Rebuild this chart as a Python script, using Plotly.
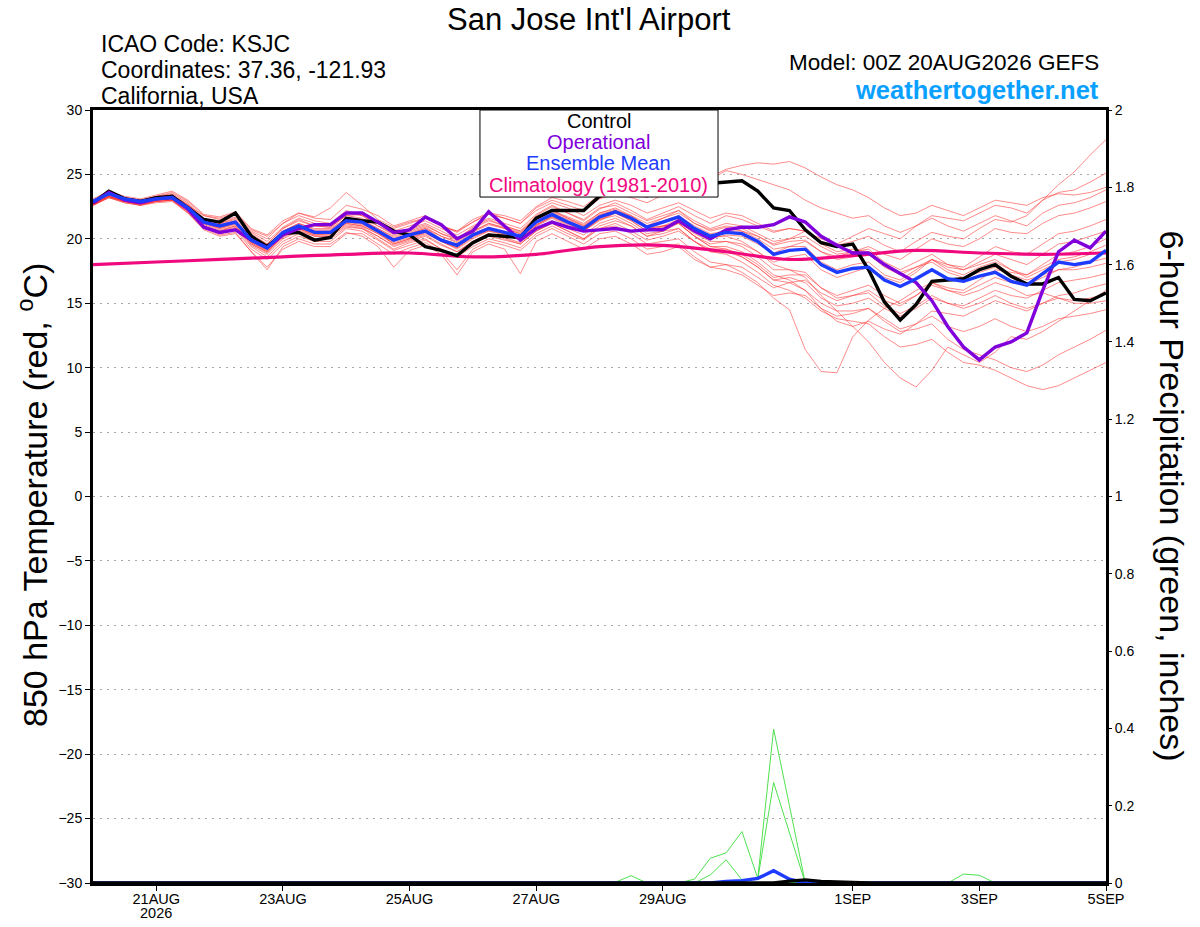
import plotly.graph_objects as go
import pandas as pd

# waktu 6-jam dari 20 Agu 00Z s/d 5 Sep 00Z
times = pd.date_range("2026-08-20 00:00", periods=65, freq="6h")
clim_days = pd.date_range("2026-08-20", periods=17, freq="D")

tick_vals = ["2026-08-21", "2026-08-23", "2026-08-25", "2026-08-27",
             "2026-08-29", "2026-09-01", "2026-09-03", "2026-09-05"]
tick_text = ["21AUG", "23AUG", "25AUG", "27AUG", "29AUG", "1SEP", "3SEP", "5SEP"]
year_label = "2026"

# suhu 850 hPa (C)
control = [22.8, 23.7, 23.1, 22.9, 23.2, 23.3, 22.4, 21.5, 21.3, 22.0, 20.2, 19.4, 20.4, 20.5, 19.9, 20.1, 21.6,
           21.4, 21.3, 20.6, 20.3, 19.4, 19.1, 18.7, 19.7, 20.3, 20.2, 20.1, 21.6, 22.2, 22.2, 22.2, 23.3,
           23.8, 24.0, 24.1, 24.0, 24.1, 24.2, 24.3, 24.4, 24.5, 23.7, 22.4, 22.2, 20.7, 19.7, 19.4,
           19.6, 17.6, 15.1, 13.7, 14.9, 16.7, 16.8, 16.9, 17.6, 18.0, 17.1, 16.5, 16.5, 17.0, 15.3, 15.2, 15.8]
operational = [22.8, 23.6, 23.0, 22.8, 23.1, 23.2, 22.3, 20.9, 20.5, 20.7, 19.9, 19.3, 20.3, 20.8, 21.1, 21.1, 22.0,
               22.0, 21.3, 20.5, 20.7, 21.7, 21.1, 20.0, 20.6, 22.1, 21.0, 19.9, 20.8, 21.3, 20.9, 20.6, 20.7,
               20.8, 20.6, 20.7, 20.7, 21.4, 20.6, 20.0, 20.7, 20.9, 20.9, 21.1, 21.7, 21.3, 20.2, 19.5,
               18.9, 18.9, 18.0, 17.3, 16.6, 15.2, 13.2, 11.6, 10.6, 11.6, 12.0, 12.7, 16.0, 19.0, 19.9, 19.3, 20.6]
ens_mean = [22.9, 23.5, 23.1, 22.9, 23.1, 23.2, 22.4, 21.3, 21.0, 21.3, 19.9, 19.3, 20.5, 21.0, 20.5, 20.5, 21.4,
            21.3, 20.6, 19.9, 20.3, 20.6, 19.9, 19.5, 20.3, 20.8, 20.5, 20.2, 21.3, 21.9, 21.3, 20.8, 21.7,
            22.1, 21.6, 20.9, 21.3, 21.7, 20.8, 20.2, 20.5, 20.4, 19.8, 18.8, 19.1, 19.2, 18.0, 17.4,
            17.7, 17.8, 16.8, 16.3, 16.9, 17.6, 16.9, 16.7, 17.1, 17.4, 16.7, 16.4, 17.3, 18.2, 18.0, 18.2, 19.1]
climatology = [18.0, 18.2, 18.4, 18.6, 18.8, 18.9, 18.6, 18.8, 19.4, 19.5, 19.0, 18.4, 18.7, 19.1, 18.9, 18.8, 18.9]

m01 = [23.0, 23.6, 23.2, 23.0, 23.3, 23.5, 22.8, 21.6, 21.2, 21.6, 20.5, 19.8, 20.9, 21.6, 21.2, 21.0, 22.0,
       21.8, 21.0, 20.4, 20.8, 21.2, 20.6, 20.0, 20.9, 21.5, 21.0, 20.6, 21.8, 22.5, 22.0, 21.4, 22.3,
       22.8, 22.2, 21.5, 22.0, 22.5, 21.8, 21.2, 21.8, 21.5, 21.0, 20.5, 20.8, 20.6, 19.8, 19.5,
       19.8, 20.2, 19.5, 19.0, 19.8, 20.5, 20.2, 20.0, 20.8, 21.5, 21.3, 21.8, 23.0, 24.2, 25.2, 26.5, 27.7]
m02 = [22.7, 23.4, 23.0, 22.8, 23.0, 23.3, 22.6, 21.8, 21.5, 21.9, 20.6, 20.0, 21.2, 22.0, 21.6, 21.5, 22.6,
       22.3, 21.8, 21.0, 21.4, 21.8, 21.0, 20.6, 21.5, 22.0, 21.6, 21.2, 22.4, 23.0, 22.6, 22.2, 23.1,
       23.5, 23.2, 22.8, 23.4, 24.0, 24.3, 24.6, 25.3, 25.0, 24.6, 24.2, 23.8, 23.0, 22.4, 22.0,
       21.6, 21.8, 21.0, 20.5, 21.0, 21.6, 21.0, 20.6, 21.2, 21.8, 21.4, 21.0, 22.0, 22.6, 22.8, 23.2, 23.8]
m03 = [22.6, 23.3, 22.9, 22.7, 23.0, 23.1, 22.3, 21.0, 20.6, 21.0, 19.6, 19.0, 20.2, 20.8, 20.3, 20.4, 21.2,
       21.0, 20.4, 19.6, 20.0, 20.5, 19.8, 19.2, 20.0, 20.6, 20.3, 19.9, 21.0, 21.6, 21.0, 20.6, 21.4,
       22.0, 21.5, 21.0, 21.6, 22.2, 21.4, 20.8, 21.2, 21.0, 20.4, 19.8, 20.0, 20.6, 20.0, 19.6,
       20.2, 20.8, 20.4, 20.0, 21.0, 21.8, 21.6, 21.4, 22.0, 22.6, 22.4, 22.0, 23.0, 23.6, 23.8, 24.4, 25.1]
m04 = [22.9, 23.5, 23.2, 23.0, 23.2, 23.4, 22.7, 21.5, 21.3, 21.7, 20.4, 19.6, 20.8, 21.5, 21.0, 20.9, 21.8,
       21.9, 21.3, 20.8, 21.2, 21.6, 21.0, 20.5, 21.3, 22.0, 21.8, 21.4, 22.5, 23.2, 22.9, 22.5, 23.4,
       24.0, 23.6, 23.2, 24.0, 24.6, 24.4, 24.8, 25.4, 25.7, 25.9, 25.8, 26.0, 25.5, 24.8, 24.2,
       23.8, 23.2, 22.4, 21.8, 22.0, 22.6, 22.2, 21.8, 22.4, 23.0, 22.8, 22.6, 23.2, 23.5, 23.4, 23.6, 24.0]
m05 = [22.8, 23.4, 23.0, 22.8, 23.1, 23.2, 22.3, 21.2, 20.8, 21.2, 19.7, 19.1, 20.3, 21.0, 20.6, 20.6, 21.5,
       21.2, 20.5, 19.6, 20.0, 20.4, 19.8, 19.3, 20.2, 20.6, 20.4, 20.0, 21.0, 21.8, 21.2, 20.6, 21.5,
       22.0, 21.4, 20.6, 21.0, 21.5, 20.6, 20.0, 20.3, 20.2, 19.6, 18.9, 19.4, 19.8, 19.0, 18.6,
       19.0, 19.4, 18.8, 18.4, 19.2, 20.0, 19.6, 19.4, 20.0, 20.8, 20.5, 20.4, 21.2, 21.8, 22.0, 22.4, 22.9]
m06 = [22.6, 23.2, 22.8, 22.6, 22.9, 23.0, 22.2, 21.0, 20.5, 20.8, 19.4, 18.6, 19.8, 20.4, 20.0, 20.0, 20.9,
       20.8, 20.0, 19.2, 19.7, 20.0, 19.2, 18.7, 19.6, 20.2, 19.9, 19.6, 20.6, 21.2, 20.6, 20.0, 21.0,
       21.4, 21.0, 20.2, 20.6, 21.2, 20.2, 19.6, 19.8, 19.6, 19.0, 18.2, 18.6, 18.8, 17.6, 17.0,
       17.4, 17.8, 17.0, 16.6, 17.4, 18.4, 18.0, 17.8, 18.6, 19.4, 19.0, 18.8, 19.6, 20.4, 20.6, 21.0, 21.5]
m07 = [23.0, 23.6, 23.2, 23.0, 23.3, 23.6, 22.9, 21.8, 21.6, 22.0, 20.7, 20.2, 21.2, 21.8, 21.4, 21.2, 22.2,
       21.8, 21.2, 20.6, 21.0, 21.4, 20.8, 20.3, 21.0, 21.6, 21.2, 20.8, 21.9, 22.6, 22.0, 21.5, 22.4,
       22.6, 22.0, 21.4, 21.8, 22.2, 21.2, 20.6, 20.9, 20.6, 20.0, 19.2, 19.4, 19.4, 18.2, 17.6,
       18.0, 18.2, 17.2, 16.8, 17.6, 18.4, 17.8, 17.6, 18.2, 18.8, 18.4, 18.0, 18.8, 19.6, 19.8, 20.2, 20.6]
m08 = [22.7, 23.3, 22.9, 22.7, 22.9, 23.0, 22.0, 20.8, 20.3, 20.5, 19.0, 17.6, 19.4, 20.0, 19.6, 19.6, 20.5,
       20.2, 19.4, 17.8, 19.1, 19.5, 18.8, 17.2, 19.0, 19.6, 19.2, 17.3, 19.8, 20.4, 19.8, 19.2, 20.0,
       20.2, 19.6, 18.8, 19.0, 19.4, 18.4, 17.8, 18.0, 17.8, 17.0, 16.2, 16.6, 16.8, 15.8, 15.2,
       15.6, 16.0, 15.2, 14.8, 15.6, 16.6, 16.2, 16.0, 16.8, 17.6, 17.4, 17.2, 18.0, 18.8, 19.0, 19.4, 20.0]
m09 = [22.9, 23.5, 23.1, 22.9, 23.2, 23.3, 22.5, 21.4, 21.1, 21.4, 20.0, 19.4, 20.6, 21.2, 20.8, 20.8, 21.6,
       21.5, 20.8, 20.2, 20.6, 21.0, 20.4, 19.9, 20.6, 21.2, 20.9, 20.5, 21.6, 22.2, 21.7, 21.2, 22.0,
       22.4, 21.8, 21.2, 21.6, 22.0, 21.2, 20.7, 21.0, 20.8, 20.2, 19.5, 19.8, 19.9, 19.0, 18.4,
       18.6, 18.8, 17.8, 17.2, 17.8, 18.4, 17.6, 17.2, 17.8, 18.2, 17.6, 17.2, 17.8, 18.4, 18.6, 19.0, 19.5]
m10 = [22.8, 23.4, 23.0, 22.8, 23.0, 23.1, 22.4, 21.2, 20.9, 21.2, 19.8, 19.2, 20.4, 20.9, 20.4, 20.4, 21.3,
       21.2, 20.6, 19.9, 20.4, 20.8, 20.0, 19.6, 20.4, 20.9, 20.6, 20.2, 21.3, 21.9, 21.4, 20.9, 21.8,
       22.2, 21.8, 21.0, 21.4, 21.8, 21.0, 20.4, 20.6, 20.6, 20.2, 19.6, 20.0, 20.2, 19.4, 18.8,
       19.0, 19.2, 18.2, 17.6, 18.2, 18.8, 18.0, 17.6, 18.0, 18.4, 17.6, 17.0, 17.6, 18.2, 18.4, 18.8, 19.1]
m11 = [22.6, 23.2, 22.9, 22.6, 22.9, 23.0, 22.1, 20.9, 20.4, 20.7, 19.2, 18.4, 19.6, 20.2, 19.8, 19.8, 20.8,
       20.6, 19.9, 19.1, 19.5, 19.9, 19.2, 18.6, 19.4, 20.0, 19.7, 19.3, 20.4, 21.0, 20.4, 19.9, 20.8,
       21.2, 20.6, 19.9, 20.2, 20.6, 19.8, 19.2, 19.2, 18.8, 18.0, 17.0, 17.2, 17.2, 16.2, 15.6,
       16.0, 16.4, 15.6, 15.0, 15.6, 16.4, 16.0, 15.8, 16.4, 17.0, 16.6, 16.4, 17.0, 17.6, 17.8, 18.2, 18.5]
m12 = [23.1, 23.7, 23.3, 23.1, 23.4, 23.7, 23.0, 21.9, 21.7, 22.1, 20.8, 20.3, 21.4, 22.0, 21.7, 22.4, 23.6,
       22.6, 21.5, 20.9, 21.3, 21.6, 21.0, 20.6, 21.3, 21.9, 21.6, 21.2, 22.2, 22.8, 22.4, 21.8, 22.6,
       23.0, 22.6, 22.0, 22.4, 22.8, 22.2, 21.6, 22.0, 21.8, 21.2, 20.6, 20.8, 20.6, 19.6, 19.0,
       19.2, 19.0, 18.0, 17.4, 17.8, 18.2, 17.4, 17.0, 17.4, 17.8, 17.2, 16.8, 17.2, 17.6, 17.6, 17.8, 18.1]
m13 = [22.7, 23.3, 22.9, 22.7, 22.9, 23.0, 22.1, 20.9, 20.6, 20.9, 19.5, 18.8, 20.0, 20.6, 20.2, 20.2, 21.0,
       20.8, 20.2, 19.5, 19.9, 20.3, 19.6, 19.0, 19.8, 20.4, 20.1, 19.7, 20.8, 21.4, 20.8, 20.3, 21.2,
       21.6, 21.0, 20.2, 20.4, 20.8, 19.8, 19.0, 19.0, 18.6, 17.8, 16.8, 17.0, 16.6, 15.4, 14.8,
       15.0, 15.4, 14.6, 14.0, 14.6, 15.4, 15.0, 14.8, 15.4, 16.0, 15.6, 15.4, 16.0, 16.6, 16.8, 17.0, 17.3]
m14 = [22.9, 23.5, 23.1, 22.9, 23.1, 23.3, 22.5, 21.3, 21.0, 21.3, 19.9, 19.3, 20.6, 21.1, 20.6, 20.6, 21.5,
       21.4, 20.8, 20.1, 20.5, 20.9, 20.2, 19.8, 20.6, 21.2, 20.8, 20.4, 21.4, 22.0, 21.5, 21.0, 21.8,
       22.2, 21.6, 20.8, 21.0, 21.2, 20.2, 19.4, 19.4, 19.0, 18.2, 17.2, 16.8, 16.0, 14.6, 13.6,
       13.2, 13.6, 13.0, 12.6, 13.4, 14.4, 14.2, 14.0, 14.6, 15.2, 14.8, 14.4, 15.0, 15.6, 15.8, 16.2, 16.5]
m15 = [22.8, 23.4, 23.0, 22.8, 23.1, 23.2, 22.4, 21.2, 20.9, 21.2, 19.8, 19.1, 20.3, 20.8, 20.3, 20.3, 21.2,
       21.0, 20.4, 19.7, 20.1, 20.5, 19.8, 19.3, 20.1, 20.7, 20.4, 20.0, 21.1, 21.7, 21.1, 20.6, 21.6,
       22.0, 21.4, 20.6, 20.9, 21.3, 20.4, 19.8, 19.8, 19.4, 18.6, 17.6, 17.6, 17.4, 16.2, 15.4,
       15.6, 15.8, 14.8, 14.2, 14.8, 15.6, 15.0, 14.6, 15.0, 15.6, 15.0, 14.6, 15.0, 15.4, 15.2, 15.4, 15.7]
m16 = [22.7, 23.3, 22.9, 22.7, 23.0, 23.1, 22.3, 21.1, 20.7, 21.0, 19.6, 18.9, 20.1, 20.7, 20.2, 20.2, 21.1,
       20.9, 20.2, 19.4, 19.8, 20.2, 19.5, 19.0, 19.8, 20.4, 20.0, 19.6, 20.6, 21.2, 20.6, 20.0, 20.8,
       21.0, 20.4, 19.6, 19.8, 20.0, 19.0, 18.2, 18.0, 17.4, 16.6, 15.4, 14.5, 11.4, 9.7, 9.6,
       12.4, 13.7, 14.6, 15.2, 16.0, 16.6, 16.0, 15.6, 16.0, 16.6, 16.2, 15.6, 15.8, 15.4, 15.0, 15.0, 15.2]
m17 = [22.6, 23.2, 22.8, 22.6, 22.8, 22.9, 22.0, 20.7, 20.2, 20.4, 19.0, 17.8, 19.2, 19.8, 19.4, 19.4, 20.4,
       20.4, 19.6, 18.8, 19.3, 19.7, 19.0, 17.6, 19.2, 19.8, 19.5, 19.1, 20.2, 20.8, 20.2, 19.6, 20.4,
       20.6, 20.0, 19.2, 19.4, 19.6, 18.6, 17.8, 17.6, 17.2, 16.4, 15.6, 15.8, 15.6, 14.6, 14.0,
       14.2, 14.6, 13.8, 13.0, 13.4, 14.0, 13.2, 12.8, 13.2, 13.8, 13.2, 12.8, 13.2, 13.8, 14.0, 14.2, 14.5]
m18 = [23.0, 23.6, 23.2, 23.0, 23.2, 23.4, 22.6, 21.5, 21.2, 21.5, 20.2, 19.6, 20.8, 21.4, 21.0, 20.9, 21.8,
       21.6, 21.0, 20.3, 20.7, 21.1, 20.4, 20.0, 20.8, 21.4, 21.0, 20.6, 21.6, 22.2, 21.6, 21.0, 21.9,
       22.2, 21.6, 20.8, 21.0, 21.2, 20.2, 19.4, 19.2, 18.6, 17.8, 16.8, 16.6, 16.0, 15.0, 14.4,
       14.4, 14.6, 13.6, 12.8, 13.0, 13.4, 12.2, 11.4, 11.0, 10.6, 10.0, 9.7, 10.2, 11.0, 11.6, 12.2, 12.9]
m19 = [22.7, 23.3, 22.9, 22.8, 23.0, 23.2, 22.4, 21.2, 20.8, 21.1, 19.7, 19.0, 20.2, 20.8, 20.4, 20.4, 21.3,
       21.1, 20.5, 19.8, 20.2, 20.6, 19.9, 19.4, 20.2, 20.8, 20.5, 20.1, 21.1, 21.7, 21.2, 20.7, 21.5,
       21.8, 21.2, 20.4, 20.6, 20.8, 19.8, 19.0, 18.8, 18.2, 17.4, 16.4, 16.0, 15.4, 14.4, 13.8,
       13.6, 13.4, 12.4, 11.6, 11.8, 12.2, 11.2, 10.4, 10.2, 9.8, 9.2, 8.6, 8.3, 8.6, 9.2, 9.8, 10.4]
m20 = [22.9, 23.5, 23.1, 22.9, 23.2, 23.4, 22.6, 21.4, 21.1, 21.4, 20.1, 19.5, 20.6, 21.2, 20.7, 20.7, 21.6,
       21.4, 20.7, 20.0, 20.4, 20.8, 20.2, 19.7, 20.5, 21.1, 20.8, 20.4, 21.5, 22.1, 21.6, 21.1, 22.0,
       22.3, 21.7, 21.0, 21.3, 21.6, 20.8, 20.2, 20.2, 19.8, 19.0, 18.0, 17.6, 17.0, 15.6, 14.4,
       13.2, 12.0, 10.4, 9.2, 8.5, 9.8, 11.6, 11.0, 10.4, 11.2, 12.4, 12.2, 12.8, 13.6, 14.4, 15.2, 16.0]
members = [m01, m02, m03, m04, m05, m06, m07, m08, m09, m10,
           m11, m12, m13, m14, m15, m16, m17, m18, m19, m20]

# presipitasi 6-jam (inch), hanya langkah waktu yang tidak nol (indeks langkah 6-jam)
precip_wet_a = {38: 0.010, 39: 0.064, 40: 0.078, 41: 0.133, 42: 0.012, 43: 0.398, 44: 0.200}
precip_wet_b = {39: 0.021, 40: 0.060, 41: 0.008, 42: 0.010, 43: 0.260, 44: 0.130}
precip_wet_c = {33: 0.002, 34: 0.019}
precip_wet_d = {55: 0.023, 56: 0.020}
precip_mean = {40: 0.004, 41: 0.006, 42: 0.012, 43: 0.032, 44: 0.010}
precip_control = {44: 0.005, 45: 0.008, 46: 0.004, 47: 0.002}
wet_members = [precip_wet_a, precip_wet_b, precip_wet_c, precip_wet_d]


def expand(d):
    return [d.get(i, 0.0) for i in range(len(times))]


FONT = "Liberation Sans, Arial, Helvetica, sans-serif"

fig = go.Figure()

# garis anggota ensemble (suhu)
for m in members:
    fig.add_trace(go.Scatter(x=times, y=m, mode="lines",
                             line=dict(color="rgba(255,45,45,0.62)", width=0.9),
                             showlegend=False, hoverinfo="skip"))

fig.add_trace(go.Scatter(x=clim_days, y=climatology, mode="lines",
                         line=dict(color="#F0087F", width=3.2, shape="spline"), showlegend=False))
fig.add_trace(go.Scatter(x=times, y=control, mode="lines",
                         line=dict(color="black", width=3.4), showlegend=False))
fig.add_trace(go.Scatter(x=times, y=operational, mode="lines",
                         line=dict(color="#8000DC", width=3.4), showlegend=False))
fig.add_trace(go.Scatter(x=times, y=ens_mean, mode="lines",
                         line=dict(color="#1E3CFF", width=3.4), showlegend=False))

# presipitasi (sumbu kanan)
for k in range(len(members)):
    d = wet_members[k] if k < len(wet_members) else {}
    fig.add_trace(go.Scatter(x=times, y=expand(d), mode="lines", yaxis="y2",
                             line=dict(color="rgb(60,220,60)", width=0.9),
                             showlegend=False, hoverinfo="skip"))
fig.add_trace(go.Scatter(x=times, y=expand(precip_mean), mode="lines", yaxis="y2",
                         line=dict(color="#1E3CFF", width=3.4), showlegend=False))
fig.add_trace(go.Scatter(x=times, y=expand(precip_control), mode="lines", yaxis="y2",
                         line=dict(color="black", width=3.4), showlegend=False))

fig.update_layout(
    width=1200, height=927,
    margin=dict(l=93, r=94, t=110, b=44),
    paper_bgcolor="white", plot_bgcolor="white",
    font=dict(family=FONT, color="black", size=14),
    xaxis=dict(type="date", range=["2026-08-20 00:00", "2026-09-05 00:00"],
               tickvals=tick_vals, ticktext=tick_text, ticks="outside", ticklen=5,
               ticklabelstandoff=-4,
               tickcolor="black", showgrid=False, zeroline=False, automargin=False,
               showline=True, linecolor="black", linewidth=3, mirror=True,
               tickfont=dict(size=14.5)),
    yaxis=dict(range=[-30, 30], dtick=5, ticks="outside", ticklen=5, tickcolor="black",
               showgrid=True, gridcolor="#A8A8A8", griddash="2px,5px", gridwidth=1,
               zeroline=False, showline=True, linecolor="black", linewidth=3, mirror=True,
               automargin=False, tickfont=dict(size=14)),
    yaxis2=dict(range=[0, 2], dtick=0.2, overlaying="y", side="right", ticks="outside",
                ticklen=5, tickcolor="black", showgrid=False, zeroline=False, showline=False,
                automargin=False, tickfont=dict(size=14)),
)

# label tahun di bawah tick pertama
fig.add_annotation(text=year_label, x=tick_vals[0], y=-0.0388, xref="x", yref="paper",
                   xanchor="center", yanchor="middle", showarrow=False,
                   font=dict(size=14.5, family=FONT))

anns = [
    dict(text="San Jose Int'l Airport", x=0.4896, y=1.1177, size=31, xanchor="center"),
    dict(text="ICAO Code: KSJC", x=0.0059, y=1.0854, size=23, xanchor="left"),
    dict(text="Coordinates: 37.36, -121.93", x=0.0059, y=1.0517, size=23, xanchor="left"),
    dict(text="California, USA", x=0.0059, y=1.0181, size=23, xanchor="left"),
    dict(text="Model: 00Z 20AUG2026 GEFS", x=0.9951, y=1.0615, size=22.5, xanchor="right"),
    dict(text="<b>weathertogether.net</b>", x=0.9951, y=1.0259, size=25.5, xanchor="right",
         color="#0AA0FF"),
    dict(text="Control", x=0.4995, y=0.9858, size=20, xanchor="center"),
    dict(text="Operational", x=0.4995, y=0.9586, size=20, xanchor="center", color="#8000DC"),
    dict(text="Ensemble Mean", x=0.4995, y=0.9314, size=20, xanchor="center", color="#1E3CFF"),
    dict(text="Climatology (1981-2010)", x=0.4995, y=0.9030, size=20, xanchor="center",
         color="#F0087F"),
]
for a in anns:
    fig.add_annotation(text=a["text"], x=a["x"], y=a["y"], xref="paper", yref="paper",
                       xanchor=a["xanchor"], yanchor="middle", showarrow=False,
                       font=dict(size=a["size"], color=a.get("color", "black"), family=FONT))

fig.add_annotation(text="850 hPa Temperature (red, <sup>o</sup>C)", x=-0.0592, y=0.502,
                   xref="paper", yref="paper", textangle=-90, showarrow=False,
                   xanchor="center", yanchor="middle", font=dict(size=34, family=FONT))
fig.add_annotation(text="6-hour Precipitation (green, inches)", x=1.0661, y=0.5,
                   xref="paper", yref="paper", textangle=90, showarrow=False,
                   xanchor="center", yanchor="middle", font=dict(size=34, family=FONT))

# kotak legenda
fig.add_shape(type="rect", xref="paper", yref="paper", x0=0.382, x1=0.617, y0=0.8874, y1=1.0,
              line=dict(color="black", width=1), fillcolor="white", layer="above")

# hilangkan margin bawaan body agar gambar mulai di pojok kiri atas
fig.write_html("out.html", config={"displayModeBar": False},
               post_script="document.body.style.margin='0';")
